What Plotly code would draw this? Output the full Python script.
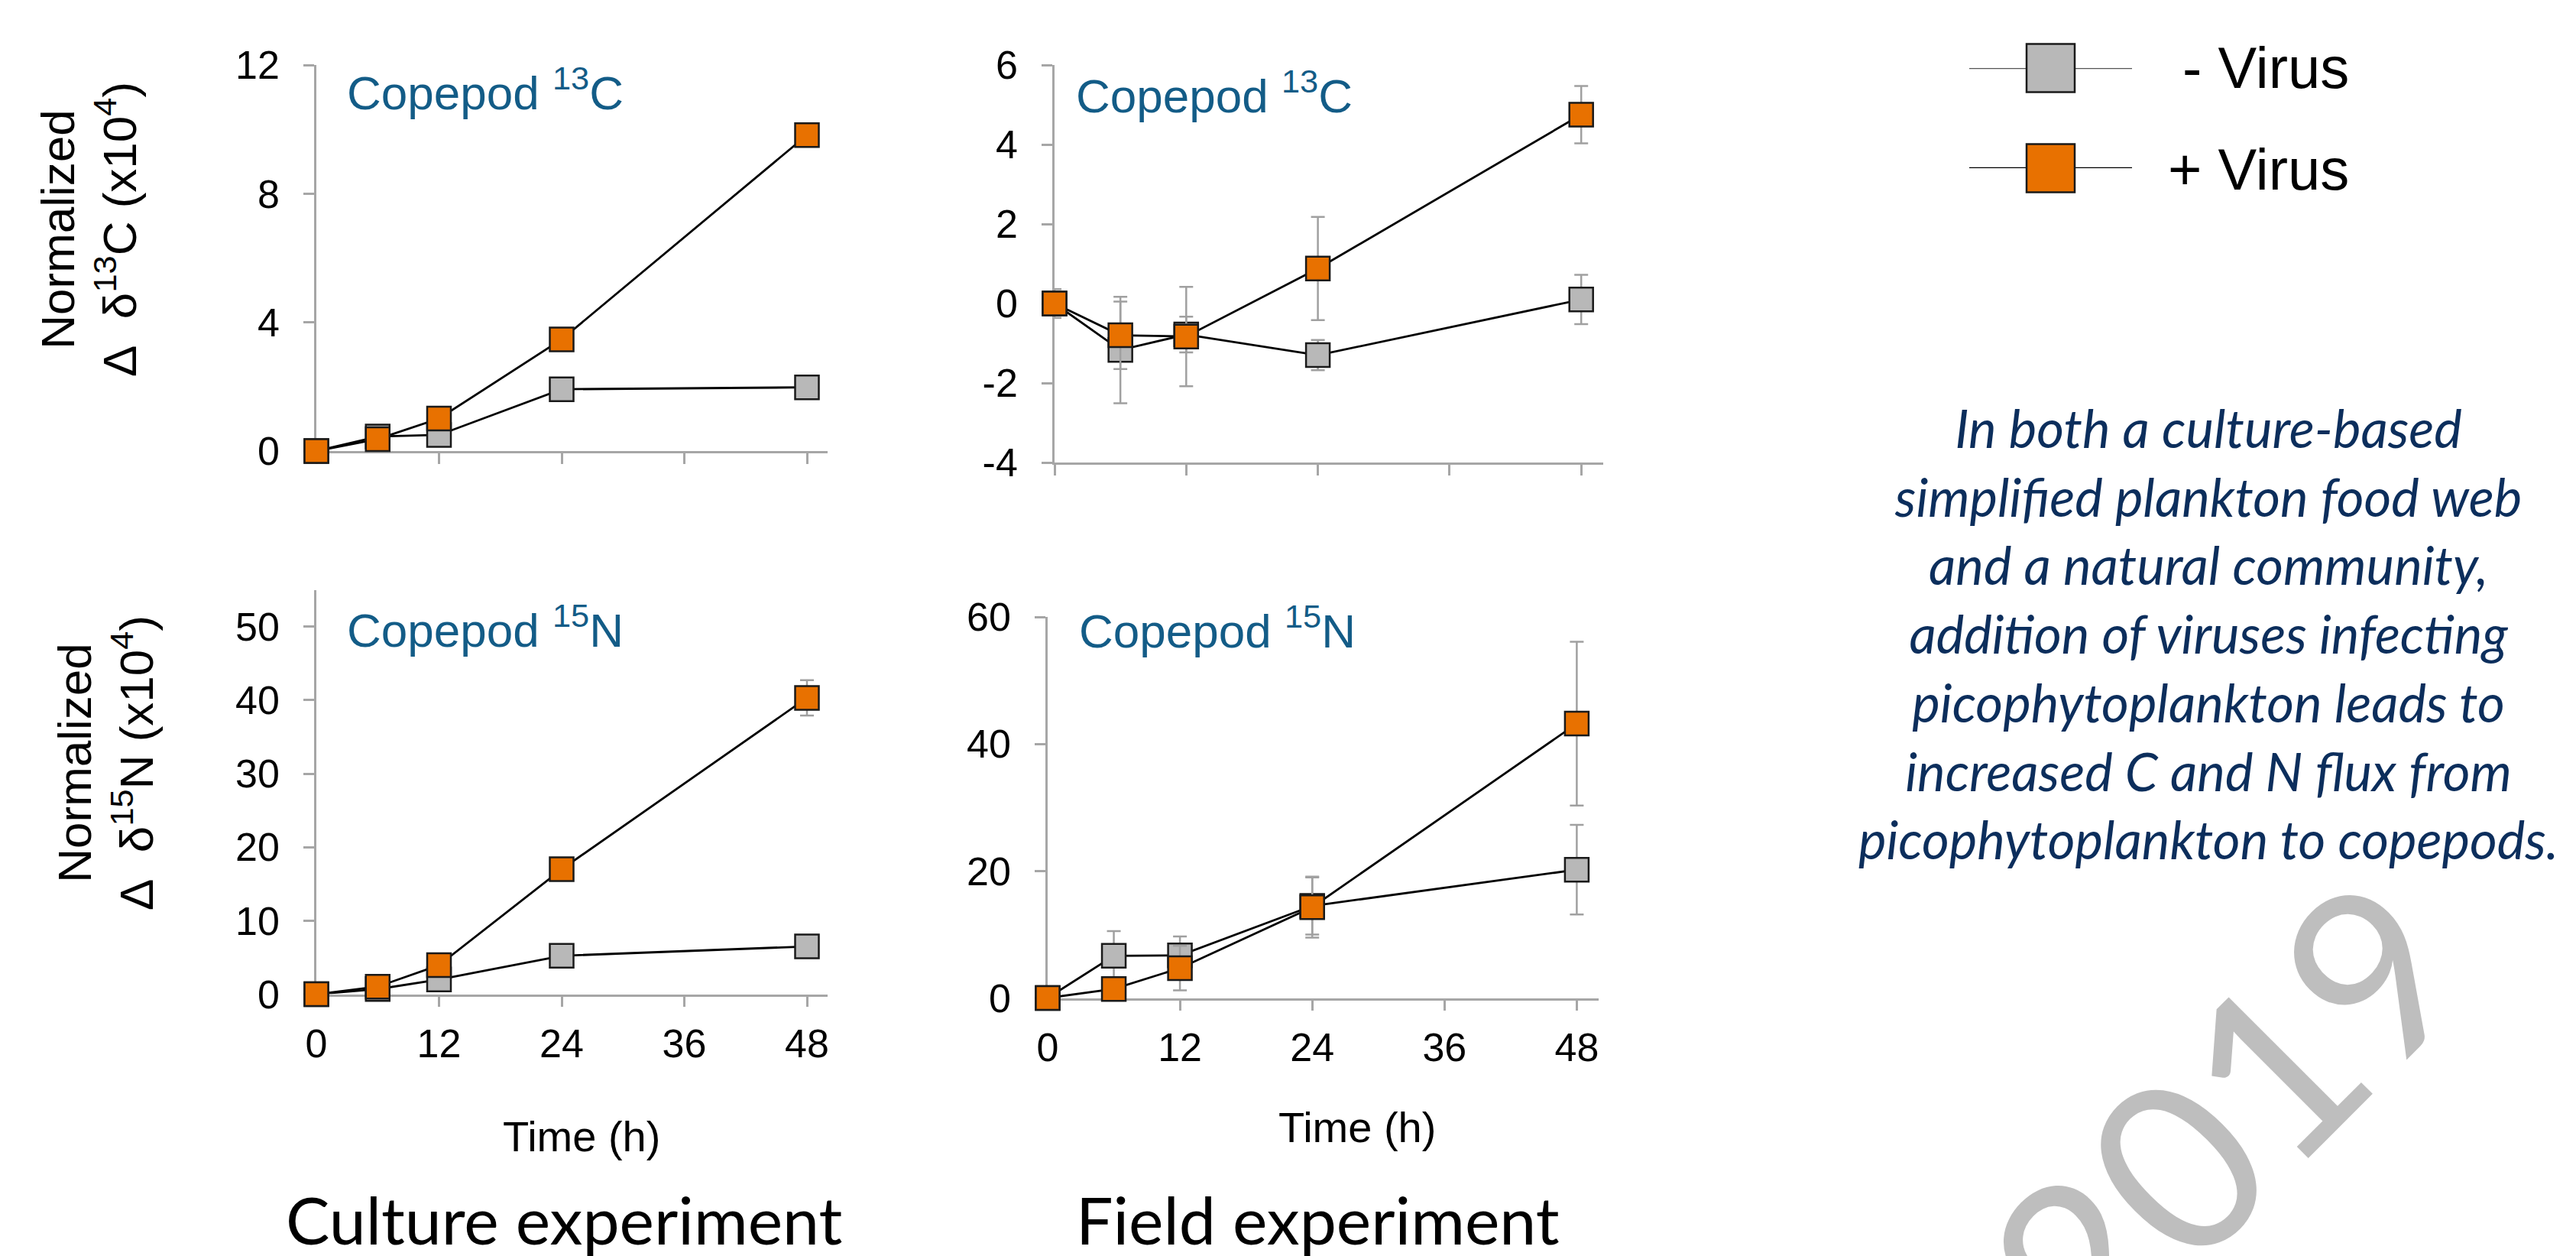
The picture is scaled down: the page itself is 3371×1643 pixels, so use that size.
import plotly.graph_objects as go

W, H = 3371, 1643

# ---------------- data ----------------
time_h = [0, 6, 12, 24, 48]
x_ticks = [0, 12, 24, 36, 48]

culture_c13_minus = [0, 0.45, 0.5, 1.92, 1.98]
culture_c13_minus_err = [0.05, 0.05, 0.05, 0.08, 0.12]
culture_c13_plus = [0, 0.37, 1.01, 3.47, 9.82]
culture_c13_plus_err = [0.05, 0.05, 0.05, 0.08, 0.22]

field_c13_minus = [0, -1.17, -0.78, -1.3, 0.1]
field_c13_minus_err = [0.36, 1.34, 0.45, 0.38, 0.62]
field_c13_plus = [0, -0.8, -0.83, 0.88, 4.75]
field_c13_plus_err = [0.2, 0.85, 1.25, 1.3, 0.72]

culture_n15_minus = [0, 0.7, 2.0, 5.23, 6.5]
culture_n15_minus_err = [0.1, 0.1, 0.2, 0.3, 0.4]
culture_n15_plus = [0, 1.03, 3.95, 17.0, 40.3]
culture_n15_plus_err = [0.1, 0.2, 0.3, 0.5, 2.4]

field_n15_minus = [0, 6.64, 6.7, 14.5, 20.2]
field_n15_minus_err = [0.5, 3.9, 3.0, 4.5, 7.05]
field_n15_plus = [0, 1.42, 4.7, 14.3, 43.2]
field_n15_plus_err = [0.5, 1.2, 3.5, 4.8, 12.9]

yticks_culture_c13 = [0, 4, 8, 12]
yticks_field_c13 = [-4, -2, 0, 2, 4, 6]
yticktext_field_c13 = ["-4", "-2", "0", "2", "4", "6"]
yticks_culture_n15 = [0, 10, 20, 30, 40, 50]
yticks_field_n15 = [0, 20, 40, 60]

legend_labels = ["- Virus", "+ Virus"]
legend_rows = [1, 0]

# ---------------- styles ----------------
GRAY = "#B8B8B8"
ORANGE = "#E87100"
AXIS = "#A6A6A6"
ERR = "#A0A0A0"
LABEL_BLUE = "#135C87"
TEXT_NAVY = "#0C2E5C"
ARIAL = "Liberation Sans, Arial, sans-serif"
CAL = "Lato, Open Sans, sans-serif"


def fx(p):
    return p / W


def fy(p):
    return 1 - p / H


panels = [
    ("x", "y", 414, 160.5, 590, 85, [0, 12], yticks_culture_c13, None,
     culture_c13_minus, culture_c13_minus_err, culture_c13_plus, culture_c13_plus_err, False),
    ("x2", "y2", 1380, 172.3, 605, 85, [-4, 6], yticks_field_c13, yticktext_field_c13,
     field_c13_minus, field_c13_minus_err, field_c13_plus, field_c13_plus_err, False),
    ("x3", "y3", 414, 160.5, 1300.6, 771.5, [0, 55], yticks_culture_n15, None,
     culture_n15_minus, culture_n15_minus_err, culture_n15_plus, culture_n15_plus_err, True),
    ("x4", "y4", 1371, 173.1, 1305.5, 807, [0, 60], yticks_field_n15, None,
     field_n15_minus, field_n15_minus_err, field_n15_plus, field_n15_plus_err, True),
]

fig = go.Figure()
layout = dict(
    width=W, height=H, margin=dict(l=0, r=0, t=0, b=0, autoexpand=False),
    paper_bgcolor="white", plot_bgcolor="rgba(0,0,0,0)", showlegend=False,
)

for i, (xa, ya, x0, p12, yb, yt, yr, yt_vals, yt_text, mn, mne, pl, ple, showx) in enumerate(panels):
    xend = x0 + p12 * 50 / 12
    xkey = "xaxis" if xa == "x" else "xaxis" + xa[1:]
    ykey = "yaxis" if ya == "y" else "yaxis" + ya[1:]
    layout[xkey] = dict(
        domain=[fx(x0), fx(xend)], range=[0, 50], anchor=ya, automargin=False,
        showline=True, linecolor=AXIS, linewidth=2.5, ticks="outside", ticklen=14,
        tickwidth=2.5, tickcolor=AXIS, showgrid=False, zeroline=False,
        tickvals=x_ticks, showticklabels=showx, layer="below traces",
        tickfont=dict(family=ARIAL, size=52, color="black"), ticklabelstandoff=3,
    )
    ydict = dict(
        domain=[fy(yb), fy(yt)], range=yr, anchor=xa, automargin=False,
        showline=True, linecolor=AXIS, linewidth=2.5, ticks="outside", ticklen=14,
        tickwidth=2.5, tickcolor=AXIS, showgrid=False, zeroline=False,
        tickvals=yt_vals, layer="below traces",
        tickfont=dict(family=ARIAL, size=52, color="black"), ticklabelstandoff=21,
    )
    if yt_text is not None:
        ydict["ticktext"] = yt_text
    layout[ykey] = ydict
    for vals, errs, col in ((mn, mne, GRAY), (pl, ple, ORANGE)):
        fig.add_trace(go.Scatter(
            x=time_h, y=vals, xaxis=xa, yaxis=ya, mode="lines+markers",
            line=dict(color="black", width=2.8),
            marker=dict(symbol="square", size=31, color=col, line=dict(color="#1A1A1A", width=2.5)),
            error_y=dict(type="data", array=errs, visible=True, color=ERR, thickness=2.5, width=9),
            cliponaxis=False, hoverinfo="skip",
        ))

# legend drawn on a hidden helper subplot
layout["xaxis5"] = dict(domain=[fx(2577), fx(2790)], range=[0, 1], visible=False, anchor="y5",
                        automargin=False)
layout["yaxis5"] = dict(domain=[fy(220), fy(89)], range=[0, 1], visible=False, anchor="x5",
                        automargin=False)
for row, col, lcol in zip(legend_rows, (GRAY, ORANGE), ("#555555", "black")):
    fig.add_trace(go.Scatter(x=[0, 1], y=[row, row], xaxis="x5", yaxis="y5", mode="lines",
                             line=dict(color=lcol, width=2.5), cliponaxis=False, hoverinfo="skip"))
    fig.add_trace(go.Scatter(x=[0.5], y=[row], xaxis="x5", yaxis="y5", mode="markers",
                             marker=dict(symbol="square", size=63, color=col,
                                         line=dict(color="#1A1A1A", width=2.5)),
                             cliponaxis=False, hoverinfo="skip"))

ann = []
# legend texts
for lab, py in zip(legend_labels, (88, 221)):
    ann.append(dict(text=lab, x=fx(3076), y=fy(py), xref="paper", yref="paper",
                    xanchor="right", yanchor="middle", showarrow=False,
                    font=dict(family=ARIAL, size=76, color="black")))

# panel labels
for txt, px, py in (("Copepod <sup>13</sup>C", 452, 117), ("Copepod <sup>13</sup>C", 1406, 121),
                    ("Copepod <sup>15</sup>N", 452, 820), ("Copepod <sup>15</sup>N", 1410, 821)):
    ann.append(dict(text=txt, x=fx(px), y=fy(py), xref="paper", yref="paper",
                    xanchor="left", yanchor="middle", showarrow=False,
                    font=dict(family=ARIAL, size=62, color=LABEL_BLUE)))

# y-axis titles
for txt, px, py in (("Normalized<br>\u0394\u00a0 \u03b4<sup>13</sup>C (x10<sup>4</sup>)", 116, 300),
                    ("Normalized<br>\u0394\u00a0 \u03b4<sup>15</sup>N (x10<sup>4</sup>)", 138, 998)):
    ann.append(dict(text=txt, x=fx(px), y=fy(py), xref="paper", yref="paper",
                    xanchor="center", yanchor="middle", textangle=-90, showarrow=False,
                    font=dict(family=ARIAL, size=62, color="black")))

# x-axis titles
for px, py in ((761, 1486), (1776, 1474)):
    ann.append(dict(text="Time (h)", x=fx(px), y=fy(py), xref="paper", yref="paper",
                    xanchor="center", yanchor="middle", showarrow=False,
                    font=dict(family=ARIAL, size=56, color="black")))

# experiment labels
for txt, px in (("Culture experiment", 738), ("Field experiment", 1724)):
    ann.append(dict(text=txt, x=fx(px), y=fy(1594), xref="paper", yref="paper",
                    xanchor="center", yanchor="middle", showarrow=False,
                    font=dict(family=CAL, size=86, color="black")))

# summary text
summary = ("<i>In both a culture-based<br>simplified plankton food web<br>and a natural community,<br>"
           "addition of viruses infecting<br>picophytoplankton leads to<br>"
           "increased C and N flux from<br>picophytoplankton to copepods.</i>")
ann.append(dict(text=summary, x=fx(2890), y=fy(828), xref="paper", yref="paper",
                xanchor="center", yanchor="middle", align="center", showarrow=False,
                font=dict(family=CAL, size=69, color=TEXT_NAVY)))

# watermark
ann.append(dict(text="2019", x=fx(2908), y=fy(1458), xref="paper", yref="paper",
                xanchor="center", yanchor="middle", textangle=-45, showarrow=False,
                font=dict(family=CAL, size=310, color="#BEBEBE")))

layout["annotations"] = ann
fig.update_layout(**layout)
fig.write_html("out.html", config={"displayModeBar": False},
               post_script="document.body.style.margin='0px';document.body.style.overflow='hidden';")
